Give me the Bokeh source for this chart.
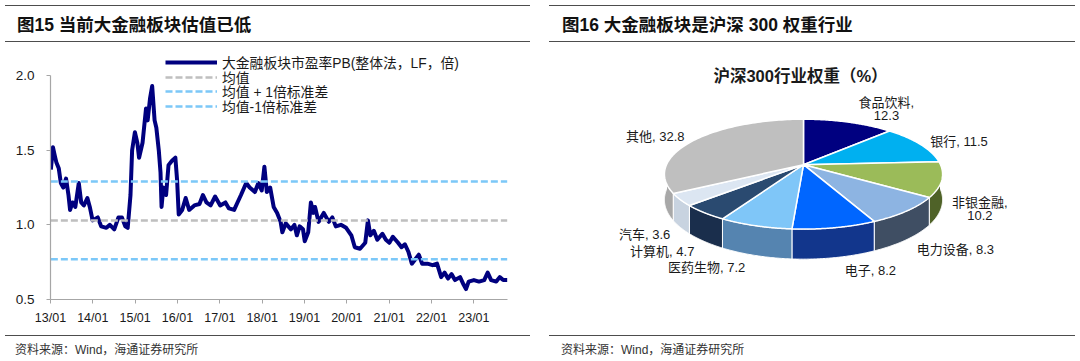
import numpy as np
import pandas as pd
from bokeh.plotting import figure
from bokeh.models import (Range1d, FixedTicker, DatetimeTickFormatter, PrintfTickFormatter,
                          Legend, LegendItem, Div, Label)
from bokeh.layouts import row, column
from bokeh.embed import file_html
from bokeh.resources import INLINE
from bokeh.core.properties import value

# ---------------- data: left chart ----------------
pb_dates = [
    "2013-01-04", "2013-01-22", "2013-02-05", "2013-02-20", "2013-03-13", "2013-03-31", "2013-04-21", "2013-05-15", "2013-06-05", "2013-06-19",
    "2013-07-10", "2013-08-03", "2013-09-02", "2013-09-23", "2013-10-16", "2013-11-15", "2013-12-06", "2013-12-30", "2014-02-13", "2014-03-14",
    "2014-04-28", "2014-05-28", "2014-07-05", "2014-08-10", "2014-09-09", "2014-10-08", "2014-10-29", "2014-11-22", "2014-12-06", "2014-12-30",
    "2015-01-20", "2015-02-04", "2015-03-06", "2015-04-05", "2015-04-19", "2015-05-10", "2015-05-28", "2015-06-18", "2015-07-03", "2015-07-24",
    "2015-08-08", "2015-08-17", "2015-09-01", "2015-09-25", "2015-10-16", "2015-11-15", "2015-12-14", "2015-12-29", "2016-01-12", "2016-02-11",
    "2016-03-12", "2016-04-11", "2016-05-26", "2016-07-09", "2016-08-08", "2016-09-07", "2016-10-13", "2016-11-21", "2017-01-04", "2017-02-18",
    "2017-03-20", "2017-05-04", "2017-06-02", "2017-07-02", "2017-08-16", "2017-09-15", "2017-10-30", "2017-11-29", "2017-12-28", "2018-01-20",
    "2018-02-10", "2018-03-11", "2018-04-10", "2018-05-10", "2018-06-09", "2018-06-24", "2018-07-23", "2018-09-06", "2018-10-06", "2018-10-27",
    "2018-11-20", "2018-12-19", "2019-01-03", "2019-02-02", "2019-02-25", "2019-03-18", "2019-04-02", "2019-05-02", "2019-06-16", "2019-07-30",
    "2019-08-29", "2019-09-28", "2019-11-11", "2019-12-26", "2020-02-09", "2020-03-10", "2020-04-24", "2020-06-08", "2020-07-01", "2020-07-22",
    "2020-08-21", "2020-09-20", "2020-11-03", "2020-12-03", "2021-01-02", "2021-02-01", "2021-03-18", "2021-04-17", "2021-05-16", "2021-06-15",
    "2021-07-15", "2021-08-14", "2021-09-13", "2021-10-12", "2021-11-26", "2022-01-09", "2022-02-17", "2022-03-25", "2022-04-23", "2022-05-23",
    "2022-06-22", "2022-07-22", "2022-09-04", "2022-10-04", "2022-10-25", "2022-11-17", "2023-01-01", "2023-02-14", "2023-03-31", "2023-04-30",
    "2023-05-30", "2023-07-13", "2023-08-12", "2023-09-11", "2023-10-17",
]
pb_values = [
    1.37, 1.52, 1.47, 1.42, 1.38, 1.28, 1.25, 1.31, 1.20, 1.10,
    1.15, 1.12, 1.28, 1.15, 1.13, 1.18, 1.12, 1.03, 1.05, 0.99,
    0.98, 1.00, 0.97, 1.05, 1.05, 0.99, 0.98, 1.20, 1.50, 1.62,
    1.55, 1.45, 1.55, 1.78, 1.70, 1.85, 1.93, 1.70, 1.65, 1.50,
    1.35, 1.12, 1.25, 1.20, 1.40, 1.43, 1.45, 1.30, 1.07, 1.10,
    1.18, 1.10, 1.13, 1.14, 1.20, 1.15, 1.13, 1.19, 1.13, 1.15,
    1.11, 1.10, 1.15, 1.20, 1.28, 1.25, 1.22, 1.28, 1.23, 1.39,
    1.22, 1.25, 1.12, 1.08, 1.02, 0.95, 1.01, 0.97, 1.00, 0.93,
    0.99, 0.97, 0.89, 0.95, 1.15, 1.08, 1.12, 1.02, 1.08, 1.02,
    1.05, 0.99, 1.00, 0.98, 0.93, 0.85, 0.84, 0.88, 1.03, 0.93,
    0.96, 0.90, 0.94, 0.90, 0.88, 0.92, 0.88, 0.85, 0.87, 0.82,
    0.74, 0.77, 0.80, 0.74, 0.74, 0.73, 0.74, 0.65, 0.68, 0.64,
    0.67, 0.63, 0.65, 0.60, 0.57, 0.62, 0.63, 0.62, 0.63, 0.68,
    0.63, 0.62, 0.65, 0.63, 0.63,
]
pb_mean = 1.03
pb_plus_std = 1.29
pb_minus_std = 0.77
legend_labels = ["大金融板块市盈率PB(整体法，LF，倍)", "均值", "均值 + 1倍标准差", "均值-1倍标准差"]
x_tick_years = [2013, 2014, 2015, 2016, 2017, 2018, 2019, 2020, 2021, 2022, 2023]
y_ticks = [0.5, 1.0, 1.5, 2.0]

# ---------------- data: pie ----------------
pie_categories = ["食品饮料", "银行", "非银金融", "电力设备", "电子", "医药生物", "计算机", "汽车", "其他"]
pie_weights = [12.3, 11.5, 10.2, 8.3, 8.2, 7.2, 4.7, 3.6, 32.8]
pie_wrapped = ["食品饮料", "非银金融"]
pie_top_colors = ["#000080", "#00B0F0", "#9BBB59", "#8DB4E2", "#0066FF", "#7FC6F8", "#2A4A70", "#DCE6F2", "#BFBFBF"]
pie_side_colors = ["#000050", "#007FAF", "#4F6228", "#3F4E63", "#12368C", "#5584B0", "#1A2E4C", "#C8D3E0", "#A8A8A8"]

FONT = "Liberation Sans, Noto Sans CJK SC"

# ---------------- left chart ----------------
xd = pd.to_datetime(pb_dates)
p1 = figure(width=540, height=290, x_axis_type="datetime", output_backend="svg", toolbar_location=None,
            x_range=Range1d(pd.Timestamp("2013-01-01"), pd.Timestamp("2023-10-18")),
            y_range=Range1d(0.5, 2.168),
            min_border_left=50, min_border_right=33, min_border_top=5, min_border_bottom=36)
p1.outline_line_color = None
p1.grid.visible = False
p1.background_fill_color = "white"

r_pb = p1.line(xd, pb_values, line_color="#00007F", line_width=4, line_join="round")
xs_ref = [xd[0], xd[-1]]
r_mean = p1.line(xs_ref, [pb_mean, pb_mean], line_color="#BFBFBF", line_width=2.5, line_dash="7 3")
r_up = p1.line(xs_ref, [pb_plus_std, pb_plus_std], line_color="#7CC8F8", line_width=2.5, line_dash="7 3")
r_dn = p1.line(xs_ref, [pb_minus_std, pb_minus_std], line_color="#7CC8F8", line_width=2.5, line_dash="7 3")

yax = p1.yaxis[0]
yax.ticker = FixedTicker(ticks=y_ticks)
yax.formatter = PrintfTickFormatter(format="%.1f")
yax.bounds = (y_ticks[0], y_ticks[-1])
xax = p1.xaxis[0]
xax.ticker = FixedTicker(ticks=[pd.Timestamp(f"{y}-01-01").value / 1e6 for y in x_tick_years])
xax.formatter = DatetimeTickFormatter(years="%y/%m", months="%y/%m", days="%y/%m", hours="%y/%m")
for ax in (xax, yax):
    ax.axis_line_color = "#A6A6A6"
    ax.axis_line_width = 1.2
    ax.major_tick_line_color = "#A6A6A6"
    ax.major_tick_in = 0
    ax.major_tick_out = 4
    ax.minor_tick_line_color = None
    ax.major_label_text_font = FONT
    ax.major_label_text_color = "#1a1a1a"
yax.major_label_text_font_size = "13.5px"
yax.major_label_standoff = 12
xax.major_label_text_font_size = "12.5px"
xax.major_label_standoff = 7

# one legend per entry, stacked with the reference's tight row pitch
ITEM_H = 19.5
row_pitch = 14.4
first_center_from_bottom = 299 - 62.7   # frame-bottom to first row centre, px
for k, (lab, rend) in enumerate(zip(legend_labels, [r_pb, r_mean, r_up, r_dn])):
    vy = first_center_from_bottom - k * row_pitch - ITEM_H / 2
    lg = Legend(items=[LegendItem(label=lab, renderers=[rend])],
                location=(115, vy), orientation="vertical",
                glyph_width=52, glyph_height=14, label_height=14, label_standoff=5,
                spacing=0, padding=0, margin=0, border_line_color=None, background_fill_alpha=0,
                label_text_font=FONT, label_text_font_size="13.8px", label_text_color="#1a1a1a")
    p1.add_layout(lg)

# ---------------- pie (3D look) ----------------
CX, CY, RX, RY, D, T = 803.0, 178.0, 137.0, 62.1, 0.172, 29.0


def proj(theta_deg, k=1.0, drop=0.0):
    t = np.radians(theta_deg)
    u, v = np.sin(t), np.cos(t)
    den = 1 + D * v
    return CX + RX * k * u / den, CY - RY * k * v / den + drop / den


p2 = figure(width=540, height=290, output_backend="svg", toolbar_location=None,
            x_range=Range1d(540, 1080), y_range=Range1d(335, 45),
            x_axis_type=None, y_axis_type=None, min_border=0)
p2.outline_line_color = None
p2.grid.visible = False

w = np.array(pie_weights, dtype=float)
edges = np.concatenate([[0.0], np.cumsum(w) / w.sum() * 360.0])

side_xs, side_ys, side_cols = [], [], []
top_xs, top_ys = [], []
for i in range(len(w)):
    a0, a1 = edges[i], edges[i + 1]
    s0, s1 = max(a0, 90.0), min(a1, 270.0)
    if s1 > s0:
        ts = np.linspace(s0, s1, 60)
        tx, ty = proj(ts)
        bx, by = proj(ts, drop=T)
        side_xs.append(np.concatenate([tx, bx[::-1]]))
        side_ys.append(np.concatenate([ty, by[::-1]]))
        side_cols.append(pie_side_colors[i])
    ts = np.linspace(a0, a1, 90)
    tx, ty = proj(ts)
    top_xs.append(np.concatenate([[CX], tx]))
    top_ys.append(np.concatenate([[CY], ty]))

p2.patches(side_xs, side_ys, fill_color=side_cols, line_color="white", line_width=1)
p2.patches(top_xs, top_ys, fill_color=pie_top_colors, line_color="white", line_width=1.5)

FS = 13.0


def text_w(s):
    return sum(FS if ord(c) > 0x2E80 else 0.55 * FS for c in s)


L = dict(x=[], y=[], t=[])
R = dict(x=[], y=[], t=[])
for i, cat in enumerate(pie_categories):
    mid = (edges[i] + edges[i + 1]) / 2
    u, v = np.sin(np.radians(mid)), np.cos(np.radians(mid))
    ex, ey = proj(mid, drop=T if v < 0 else 0.0)
    yo = -15 * v if v < 0 else -18 * v * v
    ly = ey + yo
    val = f"{pie_weights[i]:.1f}"
    tgt = L if u >= 0 else R
    lx = ex + 10 if u >= 0 else ex - 10
    if cat in pie_wrapped:
        first = cat + ","
        tgt["x"].append(lx); tgt["y"].append(ly - 8); tgt["t"].append(first)
        tgt["x"].append(lx + (text_w(first) - text_w(val)) / 2); tgt["y"].append(ly + 8); tgt["t"].append(val)
    else:
        tgt["x"].append(lx); tgt["y"].append(ly); tgt["t"].append(f"{cat}, {val}")

common = dict(text_baseline="middle", text_font=value(FONT), text_font_size="13px", text_color="#1a1a1a")
p2.text(x=L["x"], y=L["y"], text=L["t"], text_align="left", **common)
p2.text(x=R["x"], y=R["y"], text=R["t"], text_align="right", **common)
p2.add_layout(Label(x=CX - 3, y=75, text="沪深300行业权重（%）", text_align="center", text_baseline="middle",
                    text_font=FONT, text_font_style="bold", text_font_size="16.5px", text_color="#1a1a1a"))

# ---------------- titles / sources ----------------
RULE = "1.5px solid #4d4d4d"
FF = "font-family:'Liberation Sans','Noto Sans CJK SC';"


def head(title, left_off, rule_left, rule_w):
    return Div(text=(
        f'<div style="position:relative;width:540px;height:45px;">'
        f'<div style="position:absolute;left:{rule_left}px;top:5px;width:{rule_w}px;height:0;border-top:{RULE};"></div>'
        f'<div style="position:absolute;left:{rule_left}px;top:41px;width:{rule_w}px;height:0;border-top:{RULE};"></div>'
        f'<div style="position:absolute;left:{left_off}px;top:15px;{FF}'
        f'font-weight:bold;font-size:17.5px;line-height:20px;color:#111;white-space:nowrap;">{title}</div></div>'),
        width=540, height=45, margin=0)


def foot(text, left_off, rule_left, rule_w):
    return Div(text=(
        f'<div style="position:relative;width:540px;height:26px;">'
        f'<div style="position:absolute;left:{rule_left}px;top:0px;width:{rule_w}px;height:0;border-top:{RULE};"></div>'
        f'<div style="position:absolute;left:{left_off}px;top:8px;{FF}'
        f'font-size:12px;line-height:14px;color:#333;white-space:nowrap;">{text}</div></div>'),
        width=540, height=26, margin=0)


top_row = row(head("图15 当前大金融板块估值已低", 17, 5, 525), head("图16 大金融板块是沪深 300 权重行业", 22, 9, 526))
bot_row = row(foot("资料来源：Wind，海通证券研究所", 15, 5, 525), foot("资料来源：Wind，海通证券研究所", 21, 9, 526))
layout = column(top_row, row(p1, p2), bot_row)

open("out.html", "w").write(file_html(layout, INLINE))
